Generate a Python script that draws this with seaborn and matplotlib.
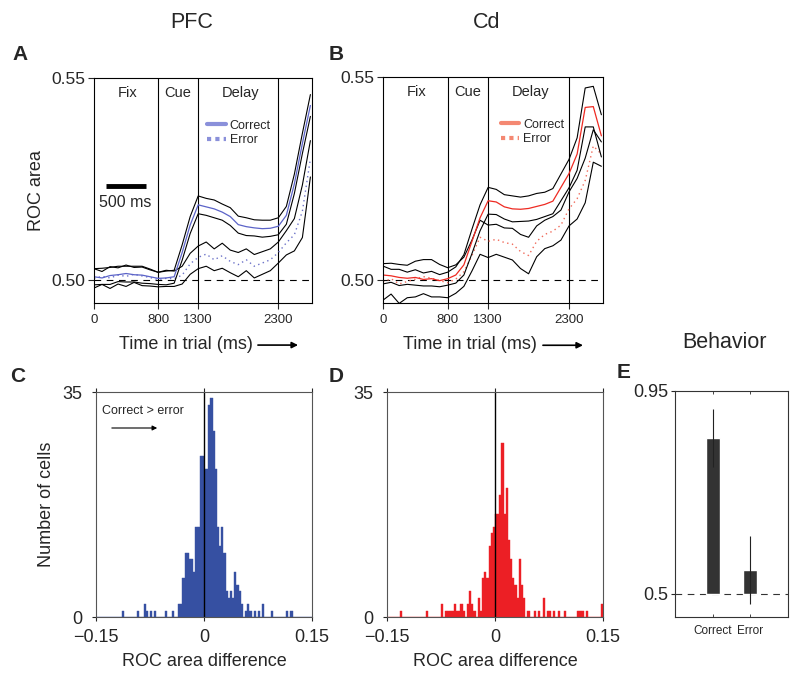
import pandas as pd
import seaborn as sns
import matplotlib.pyplot as plt
from matplotlib.lines import Line2D

# Time axis for the ROC traces (ms)
time_ms = list(range(0, 2800, 100))

# PFC traces (ROC area), correct and error trials, mean and sem
pfc_cor_mean = [0.5008, 0.5005, 0.5011, 0.5013, 0.5016, 0.5013, 0.5012, 0.5008, 0.5004, 0.5005,
                0.5008, 0.5068, 0.5136, 0.5186, 0.5181, 0.5176, 0.5168, 0.5157, 0.5137, 0.5132,
                0.5129, 0.5127, 0.5128, 0.5133, 0.5160, 0.5238, 0.5338, 0.5432]
pfc_cor_sem = [0.0020, 0.0016, 0.0022, 0.0017, 0.0021, 0.0018, 0.0020, 0.0017, 0.0015, 0.0017,
               0.0016, 0.0019, 0.0021, 0.0022, 0.0021, 0.0022, 0.0020, 0.0022, 0.0021, 0.0022,
               0.0020, 0.0021, 0.0020, 0.0021, 0.0022, 0.0024, 0.0025, 0.0027]
pfc_err_mean = [0.5004, 0.5009, 0.5005, 0.5012, 0.5009, 0.5014, 0.5010, 0.5006, 0.5001, 0.5004,
                0.5003, 0.5012, 0.5040, 0.5056, 0.5064, 0.5050, 0.5060, 0.5046, 0.5038, 0.5050,
                0.5034, 0.5042, 0.5050, 0.5068, 0.5092, 0.5112, 0.5170, 0.5300]
pfc_err_sem = [0.0024, 0.0020, 0.0026, 0.0022, 0.0025, 0.0020, 0.0024, 0.0021, 0.0018, 0.0020,
               0.0019, 0.0022, 0.0026, 0.0028, 0.0030, 0.0027, 0.0031, 0.0028, 0.0030, 0.0027,
               0.0029, 0.0028, 0.0027, 0.0026, 0.0030, 0.0040, 0.0065, 0.0045]

# Cd traces
cd_cor_mean = [0.5012, 0.5010, 0.5006, 0.5004, 0.5006, 0.5001, 0.5003, 0.4998, 0.5003, 0.5012,
               0.5037, 0.5095, 0.5153, 0.5195, 0.5192, 0.5180, 0.5175, 0.5174, 0.5176, 0.5181,
               0.5186, 0.5194, 0.5228, 0.5262, 0.5310, 0.5425, 0.5427, 0.5355]
cd_cor_sem = [0.0022, 0.0016, 0.0020, 0.0015, 0.0019, 0.0016, 0.0018, 0.0015, 0.0016, 0.0020,
              0.0025, 0.0030, 0.0032, 0.0033, 0.0031, 0.0030, 0.0032, 0.0030, 0.0031, 0.0032,
              0.0030, 0.0031, 0.0033, 0.0035, 0.0040, 0.0048, 0.0050, 0.0052]
cd_err_mean = [0.4995, 0.5003, 0.4990, 0.4996, 0.5002, 0.5008, 0.5004, 0.4998, 0.4993, 0.5002,
               0.5020, 0.5060, 0.5105, 0.5095, 0.5100, 0.5092, 0.5088, 0.5070, 0.5060, 0.5095,
               0.5112, 0.5120, 0.5135, 0.5175, 0.5200, 0.5245, 0.5330, 0.5310]
cd_err_sem = [0.0045, 0.0038, 0.0048, 0.0040, 0.0044, 0.0042, 0.0046, 0.0040, 0.0037, 0.0035,
              0.0036, 0.0038, 0.0042, 0.0040, 0.0037, 0.0036, 0.0039, 0.0042, 0.0045, 0.0038,
              0.0035, 0.0036, 0.0037, 0.0042, 0.0050, 0.0055, 0.0040, 0.0030]

# Histograms of ROC area difference (bin centers, width 0.003) and counts
pfc_centers = [-0.1125, -0.0915, -0.0825, -0.0795, -0.0735, -0.0675, -0.0525, -0.0435, -0.0345, -0.0315,
               -0.0285, -0.0255, -0.0225, -0.0195, -0.0165, -0.0135, -0.0105, -0.0075, -0.0045, -0.0015,
               0.0015, 0.0045, 0.0075, 0.0105, 0.0135, 0.0165, 0.0195, 0.0225, 0.0255, 0.0285,
               0.0315, 0.0345, 0.0375, 0.0405, 0.0435, 0.0465, 0.0495, 0.0525, 0.0585, 0.0615,
               0.0645, 0.0705, 0.0765, 0.0825, 0.0945, 0.1155, 0.1215]
pfc_counts = [1, 1, 2, 1, 1, 1, 1, 1, 2, 2,
              6, 10, 10, 9, 9, 7, 14, 14, 25, 25,
              23, 23, 33, 34, 29, 23, 14, 11, 14, 10,
              4, 3, 4, 3, 7, 5, 4, 2, 1, 2,
              1, 1, 1, 2, 1, 1, 1]

cd_centers = [-0.1305, -0.0945, -0.0735, -0.0675, -0.0645, -0.0615, -0.0585, -0.0555, -0.0525, -0.0495,
              -0.0465, -0.0435, -0.0375, -0.0345, -0.0315, -0.0285, -0.0235, -0.0205, -0.0175, -0.0145,
              -0.0115, -0.0075, -0.0045, -0.0015, 0.0015, 0.0045, 0.0075, 0.0105, 0.0135, 0.0165,
              0.0195, 0.0225, 0.0255, 0.0285, 0.0315, 0.0345, 0.0375, 0.0405, 0.0465, 0.0545,
              0.0615, 0.0675, 0.0735, 0.0765, 0.0825, 0.0885, 0.0985, 0.1155, 0.1185, 0.1215,
              0.1275, 0.1485]
cd_counts = [1, 1, 2, 1, 1, 1, 1, 2, 1, 1,
             2, 1, 2, 4, 2, 1, 3, 1, 6, 7,
             6, 11, 13, 14, 16, 16, 19, 27, 16, 20,
             12, 9, 6, 5, 3, 9, 5, 3, 1, 1,
             1, 3, 1, 1, 1, 1, 1, 1, 1, 1,
             1, 2]

# Behavior
behav_labels = ['Correct', 'Error']
behav_mean = [0.846, 0.553]
behav_err = [0.065, 0.075]

sns.set_style('ticks')
plt.rcParams['font.family'] = ['Liberation Sans', 'DejaVu Sans']

W, H = 800, 678
fig = plt.figure(figsize=(8, 6.78), dpi=100)


def box(l, t, r, b):
    return [l / W, 1 - b / H, (r - l) / W, (b - t) / H]


axA = fig.add_axes(box(94, 78, 312, 303))
axB = fig.add_axes(box(383, 77, 603, 303))
axC = fig.add_axes(box(96, 392, 312, 617))
axD = fig.add_axes(box(387, 392, 603, 617))
axE = fig.add_axes(box(675, 391, 788, 617))


def roc_panel(ax, cor_mean, cor_sem, err_mean, err_sem, line_col, dot_col, leg_col, leg_x):
    df = pd.DataFrame({'t': time_ms, 'cm': cor_mean, 'cs': cor_sem, 'em': err_mean, 'es': err_sem})
    ax.axhline(0.5, color='k', lw=0.8, dashes=(6, 5), zorder=1)
    for t in [800, 1300, 2300]:
        ax.axvline(t, color='k', lw=0.8, zorder=1)
    sns.lineplot(x=df['t'], y=df['em'] + df['es'], ax=ax, color='k', lw=0.8)
    sns.lineplot(x=df['t'], y=df['em'] - df['es'], ax=ax, color='k', lw=0.8)
    sns.lineplot(x=df['t'], y=df['em'], ax=ax, color=dot_col, lw=1.0, linestyle=(0, (1, 2.5)))
    sns.lineplot(x=df['t'], y=df['cm'] + df['cs'], ax=ax, color='k', lw=0.8)
    sns.lineplot(x=df['t'], y=df['cm'] - df['cs'], ax=ax, color='k', lw=0.8)
    sns.lineplot(x=df['t'], y=df['cm'], ax=ax, color=line_col, lw=0.9)
    ax.set_xlim(0, 2720)
    ax.set_ylim(0.4943, 0.55)
    ax.set_xticks([0, 800, 1300, 2300])
    ax.set_yticks([0.50, 0.55])
    ax.set_yticklabels(['0.50', '0.55'])
    ax.tick_params(axis='x', labelsize=9.5, direction='out', length=4, width=0.8, pad=4)
    ax.tick_params(axis='y', labelsize=12.5, direction='out', length=4, width=0.8, pad=2)
    for s in ax.spines.values():
        s.set_linewidth(0.8)
        s.set_color('k')
    ax.set_ylabel('')
    ax.set_xlabel('')
    for lab, tx in [('Fix', 420), ('Cue', 1050), ('Delay', 1830)]:
        ax.text(tx, 0.5464, lab, ha='center', va='center', fontsize=10.5)
    handles = [Line2D([], [], color=leg_col, lw=3),
               Line2D([], [], color=leg_col, lw=3, linestyle=(0, (1, 1)))]
    ax.legend(handles, ['Correct', 'Error'], loc='upper left', bbox_to_anchor=(leg_x, 0.815),
              frameon=False, fontsize=9, handlelength=1.5, handletextpad=0.3, labelspacing=0.2,
              borderaxespad=0, borderpad=0)


roc_panel(axA, pfc_cor_mean, pfc_cor_sem, pfc_err_mean, pfc_err_sem, '#5B63C8', '#6C72C8', '#8A90DA', 0.52)
roc_panel(axB, cd_cor_mean, cd_cor_sem, cd_err_mean, cd_err_sem, '#EE2A22', '#F06A5A', '#F48872', 0.535)

# scale bar in A
axA.plot([150, 650], [0.5233, 0.5233], color='k', lw=3.5, solid_capstyle='butt')
axA.text(390, 0.5193, '500 ms', ha='center', va='center', fontsize=11.5)

axA.set_ylabel('ROC area', fontsize=13)
axA.yaxis.set_label_coords(-0.225, 0.5)

for ax, lx, a0, a1 in [(axA, 0.42, 0.752, 0.936), (axB, 0.395, 0.727, 0.909)]:
    ax.set_xlabel('Time in trial (ms)', fontsize=13)
    ax.xaxis.set_label_coords(lx, -0.147)
    ax.annotate('', xy=(a1, -0.187), xytext=(a0, -0.187), xycoords='axes fraction',
                arrowprops=dict(arrowstyle='-|>', lw=1.2, color='k', mutation_scale=9,
                                shrinkA=0, shrinkB=0))


def hist_panel(ax, centers, counts, col):
    sns.histplot(x=centers, weights=counts, binwidth=0.003, binrange=(-0.15, 0.15), ax=ax,
                 color=col, alpha=1, edgecolor=col, linewidth=0.3)
    ax.axvline(0, color='k', lw=1.0)
    ax.set_xlim(-0.15, 0.15)
    ax.set_ylim(0, 35)
    ax.set_xticks([-0.15, 0, 0.15])
    ax.set_xticklabels(['\u22120.15', '0', '0.15'])
    ax.set_yticks([0, 35])
    ax.tick_params(labelsize=13, direction='out', length=3, width=0.8, top=True)
    ax.tick_params(axis='x', pad=6)
    ax.tick_params(axis='y', pad=7)
    for s in ax.spines.values():
        s.set_linewidth(0.8)
        s.set_color('#555555')
    ax.set_ylabel('')
    ax.set_xlabel('ROC area difference', fontsize=13)
    ax.xaxis.set_label_coords(0.5, -0.16)


hist_panel(axC, pfc_centers, pfc_counts, '#3650A2')
hist_panel(axD, cd_centers, cd_counts, '#EC1F25')
axC.set_ylabel('Number of cells', fontsize=13)
axC.yaxis.set_label_coords(-0.19, 0.5)
axC.text(-0.085, 32.0, 'Correct > error', ha='center', va='center', fontsize=9)
axC.annotate('', xy=(-0.065, 29.4), xytext=(-0.128, 29.4),
             arrowprops=dict(arrowstyle='-|>', lw=0.8, color='k', mutation_scale=7,
                             shrinkA=0, shrinkB=0))

# Behavior bars
xpos = [1, 2]
axE.axhline(0.5, color='#333333', lw=0.8, dashes=(6, 5), zorder=1)
axE.bar(xpos, [m - 0.5 for m in behav_mean], bottom=0.5, width=0.37, color='#333333', zorder=2)
axE.errorbar(xpos, behav_mean, yerr=behav_err, fmt='none', ecolor='#222222', elinewidth=0.8,
             capsize=0, zorder=3)
axE.set_xlim(0, 3)
axE.set_ylim(0.449, 0.95)
axE.set_xticks(xpos)
axE.set_xticklabels(behav_labels, fontsize=8.5)
axE.set_yticks([0.5, 0.95])
axE.set_yticklabels(['0.5', '0.95'], fontsize=13)
axE.tick_params(axis='x', direction='in', length=2.5, width=0.6, top=True, pad=6)
axE.tick_params(axis='y', direction='out', length=3, width=0.8, pad=2)
for s in axE.spines.values():
    s.set_linewidth(0.8)
    s.set_color('#333333')

# titles and panel letters
fig.text(192 / W, 1 - 23 / H, 'PFC', ha='center', va='center', fontsize=15.5)
fig.text(487 / W, 1 - 23 / H, 'Cd', ha='center', va='center', fontsize=15.5)
fig.text(725 / W, 1 - 342 / H, 'Behavior', ha='center', va='center', fontsize=15.5)
for lab, x, y in [('A', 20, 54), ('B', 336, 54), ('C', 18, 377), ('D', 336, 377), ('E', 624, 372)]:
    fig.text(x / W, 1 - y / H, lab, ha='center', va='center', fontsize=15, fontweight='bold')

plt.savefig('out.png', dpi=100)
